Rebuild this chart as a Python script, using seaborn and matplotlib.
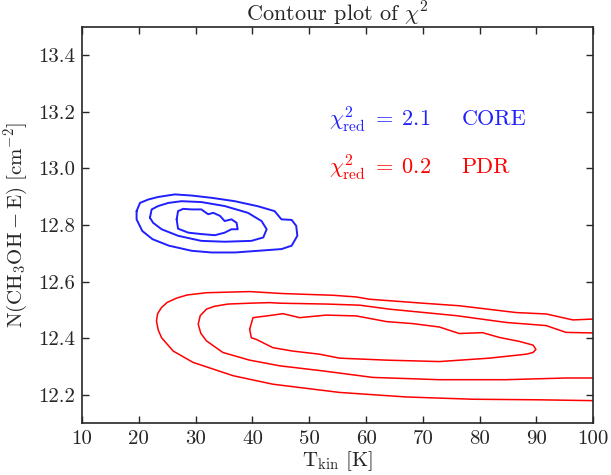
import matplotlib
matplotlib.use("Agg")
import matplotlib.pyplot as plt
import seaborn as sns
import pandas as pd

# ---- data: contour lines (T_kin [K], log N [cm^-2]) ----
core_outer_x = [19.6, 20.2, 21.65, 23.4, 26.35, 29.3, 32.8, 36.9, 41.0, 43.9, 45.1, 46.9, 47.7, 47.9,
                46.9, 45.1, 41.0, 36.9, 32.8, 29.3, 25.3, 22.4, 20.6, 19.6, 19.6]
core_outer_y = [12.849, 12.878, 12.890, 12.899, 12.908, 12.904, 12.896, 12.884, 12.866, 12.849, 12.820,
                12.818, 12.797, 12.762, 12.727, 12.715, 12.709, 12.703, 12.703, 12.709, 12.727, 12.750,
                12.779, 12.820, 12.849]
core_mid_x = [21.95, 22.25, 23.4, 25.2, 27.5, 31.0, 35.1, 39.2, 41.6, 42.5, 41.9, 39.8, 35.1, 31.0,
              26.9, 24.0, 22.5, 21.95]
core_mid_y = [12.826, 12.855, 12.867, 12.878, 12.884, 12.881, 12.867, 12.843, 12.814, 12.785, 12.756,
              12.744, 12.741, 12.744, 12.762, 12.785, 12.808, 12.826]
core_in_x = [26.65, 26.9, 27.8, 29.3, 31.0, 32.2, 33.1, 34.3, 35.1, 36.3, 37.2, 37.4, 36.3, 35.1,
             33.4, 31.0, 28.7, 26.9, 26.65]
core_in_y = [12.820, 12.849, 12.857, 12.855, 12.855, 12.838, 12.843, 12.832, 12.814, 12.820, 12.808,
             12.785, 12.785, 12.773, 12.764, 12.768, 12.773, 12.787, 12.820]

pdr_outer_x = [100.0, 96.4, 91.7, 86.4, 76.4, 70.0, 60.6, 58.3, 54.2, 45.4, 39.5, 31.9, 28.5, 26.65,
               25.0, 24.0, 23.3, 23.1, 23.4, 24.0, 26.05, 29.55, 36.6, 43.6, 55.35, 67.1, 78.8, 90.5, 100.0]
pdr_outer_y = [12.468, 12.465, 12.486, 12.491, 12.515, 12.524, 12.538, 12.546, 12.552, 12.558, 12.565,
               12.561, 12.553, 12.542, 12.527, 12.509, 12.487, 12.461, 12.430, 12.402, 12.355, 12.315,
               12.268, 12.238, 12.209, 12.193, 12.185, 12.183, 12.180]
pdr_mid_x = [100.0, 95.2, 91.7, 84.65, 75.9, 64.1, 58.9, 53.0, 44.8, 43.05, 39.5, 35.7, 33.3, 31.9,
             30.8, 30.45, 30.9, 31.9, 34.8, 39.5, 44.8, 52.4, 61.2, 72.9, 84.65, 95.2, 100.0]
pdr_mid_y = [12.419, 12.421, 12.445, 12.456, 12.480, 12.503, 12.517, 12.521, 12.524, 12.526, 12.524,
             12.521, 12.513, 12.503, 12.480, 12.450, 12.418, 12.391, 12.350, 12.323, 12.303, 12.285,
             12.262, 12.254, 12.254, 12.260, 12.260]
pdr_in_x = [39.5, 40.1, 42.5, 45.4, 48.3, 53.0, 58.3, 63.6, 68.2, 72.9, 76.4, 80.5, 83.5, 87.0, 89.4,
            89.9, 89.4, 88.2, 81.7, 72.9, 63.6, 55.35, 51.8, 47.1, 43.6, 40.7, 39.8, 39.5]
pdr_in_y = [12.432, 12.473, 12.479, 12.487, 12.473, 12.482, 12.479, 12.459, 12.452, 12.440, 12.417,
            12.420, 12.403, 12.389, 12.376, 12.361, 12.350, 12.344, 12.330, 12.318, 12.323, 12.330,
            12.344, 12.355, 12.367, 12.396, 12.402, 12.432]

x_ticks = [10, 20, 30, 40, 50, 60, 70, 80, 90, 100]
y_ticks = [12.2, 12.4, 12.6, 12.8, 13.0, 13.2, 13.4]

labels = [("CORE", r"$\chi^2_{\rm red}\;=\;2.1$", "#2020ff"), ("PDR", r"$\chi^2_{\rm red}\;=\;0.2$", "red")]

# ---- style ----
sns.set_style("ticks")
plt.rcParams["font.family"] = ["serif"]
plt.rcParams["font.serif"] = ["cmr10", "DejaVu Serif"]
plt.rcParams["mathtext.fontset"] = "cm"
plt.rcParams["axes.formatter.use_mathtext"] = True
plt.rcParams["axes.unicode_minus"] = False

fig = plt.figure(figsize=(6.11, 4.75), dpi=100)
ax = fig.add_axes([0.1343, 0.1088, 0.8367, 0.835])

contours = [
    (core_outer_x, core_outer_y, "#2020ff", 1.4), (core_mid_x, core_mid_y, "#2020ff", 1.4),
    (core_in_x, core_in_y, "#2020ff", 1.4),
    (pdr_outer_x, pdr_outer_y, "red", 1.1), (pdr_mid_x, pdr_mid_y, "red", 1.1), (pdr_in_x, pdr_in_y, "red", 1.1),
]
for xs, ys, c, lw in contours:
    df = pd.DataFrame({"x": xs, "y": ys})
    sns.lineplot(data=df, x="x", y="y", sort=False, estimator=None, color=c, lw=lw, ax=ax)

ax.set_xlim(10, 100)
ax.set_ylim(12.1, 13.5)
ax.set_xticks(x_ticks)
ax.set_yticks(y_ticks)
ax.set_xticklabels([str(v) for v in x_ticks])
ax.set_yticklabels([f"{v:.1f}" for v in y_ticks])
ax.tick_params(direction="in", top=True, right=True, length=5, width=1, labelsize=15, pad=5)
for s in ax.spines.values():
    s.set_linewidth(1.2)

ax.set_xlabel(r"$\rm T_{kin}\ [K]$", fontsize=15, labelpad=1)
ax.set_ylabel(r"$\rm N(CH_3OH - E)\ [cm^{-2}]$", fontsize=15, labelpad=6)
ax.set_title(r"Contour plot of $\chi^2$", fontsize=16, pad=4)

ys_text = [13.175, 13.005]
for (name, chi, c), yt in zip(labels, ys_text):
    ax.text(53.5, yt, chi, color=c, fontsize=16, va="center", ha="left")
    ax.text(76.8, yt, name, color=c, fontsize=16, va="center", ha="left")

fig.savefig("out.png", dpi=100)
